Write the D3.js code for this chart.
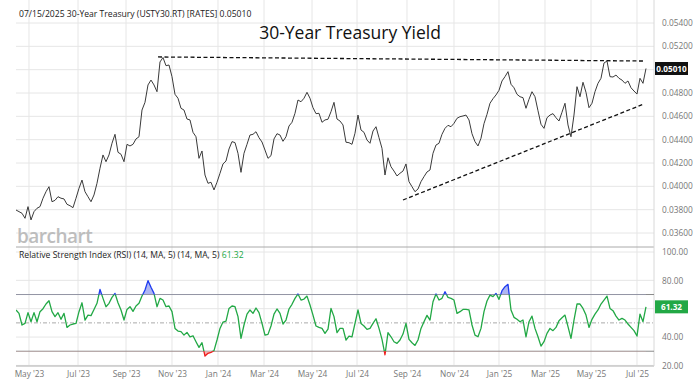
<!DOCTYPE html>
<html><head><meta charset="utf-8">
<script src="https://cdn.jsdelivr.net/npm/d3@7"></script>
<style>
html,body{margin:0;padding:0;background:#fff;}
svg{display:block;font-family:"Open Sans","Noto Sans",sans-serif;}
</style></head>
<body><svg id="c" width="700" height="387"></svg>
<script>
// ---- data (sampled about every 3 trading days) ----
const priceValues = [
0.03797,0.03783,0.03769,0.03726,0.03826,0.03712,0.03783,0.03812,0.03826,0.03898,
0.03954,0.03997,0.03868,0.03880,0.03911,0.03898,0.03892,0.03846,0.03834,0.03817,
0.03898,0.03983,0.04054,0.03954,0.03911,0.03868,0.03926,0.04026,0.04155,0.04269,
0.04211,0.04269,0.04369,0.04446,0.04292,0.04275,0.04211,0.04360,0.04346,0.04360,
0.04406,0.04425,0.04654,0.04720,0.04869,0.04911,0.04869,0.04811,0.05066,0.05104,
0.05034,0.05040,0.04940,0.04789,0.04755,0.04669,0.04654,0.04577,0.04569,0.04463,
0.04425,0.04240,0.04303,0.04097,0.04026,0.04035,0.03969,0.04035,0.04112,0.04192,
0.04217,0.04320,0.04383,0.04375,0.04283,0.04120,0.04283,0.04360,0.04440,0.04446,
0.04468,0.04417,0.04380,0.04311,0.04240,0.04263,0.04406,0.04451,0.04440,0.04386,
0.04425,0.04517,0.04549,0.04626,0.04740,0.04725,0.04755,0.04806,0.04755,0.04674,
0.04623,0.04626,0.04549,0.04569,0.04575,0.04640,0.04720,0.04577,0.04560,0.04526,
0.04378,0.04374,0.04360,0.04455,0.04611,0.04483,0.04463,0.04397,0.04369,0.04474,
0.04511,0.04417,0.04326,0.04097,0.04245,0.04168,0.04131,0.04089,0.04112,0.04131,
0.04192,0.04040,0.03997,0.03954,0.03977,0.04040,0.04083,0.04123,0.04140,0.04283,
0.04354,0.04369,0.04446,0.04497,0.04523,0.04511,0.04540,0.04583,0.04597,0.04603,
0.04611,0.04569,0.04451,0.04383,0.04346,0.04412,0.04537,0.04617,0.04712,0.04751,
0.04783,0.04823,0.04903,0.04940,0.04983,0.04875,0.04845,0.04789,0.04768,0.04760,
0.04669,0.04746,0.04811,0.04768,0.04648,0.04532,0.04497,0.04588,0.04611,0.04623,
0.04588,0.04560,0.04635,0.04712,0.04526,0.04425,0.04611,0.04854,0.04768,0.04892,
0.04806,0.04674,0.04712,0.04811,0.04883,0.04926,0.05057,0.05074,0.04940,0.04937,
0.04954,0.04926,0.04911,0.04883,0.04903,0.04845,0.04817,0.04791,0.04926,0.04883,
0.05010];
const rsiValues = [
59.1,56.7,48.5,49.6,57.2,50.8,57.2,50.8,57.9,60.0,
63.3,65.6,57.9,54.4,57.2,52.5,56.7,46.8,48.5,49.2,
49.6,57.9,64.2,52.0,55.5,55.1,59.5,63.8,73.6,67.3,
61.4,63.8,68.0,70.8,64.2,59.1,52.0,59.5,61.4,58.1,
61.9,63.8,68.9,73.2,79.8,75.1,70.8,61.4,67.3,66.1,
61.4,61.9,57.9,46.1,44.2,43.8,41.4,43.3,40.2,40.9,
36.7,32.7,36.0,26.6,28.5,29.2,30.4,37.9,46.1,50.6,
51.3,60.2,61.9,61.4,54.4,39.1,48.5,56.2,59.1,56.7,
60.5,57.2,49.6,41.4,41.9,47.8,56.2,59.8,56.7,49.2,
52.0,59.8,63.1,67.3,70.4,66.1,66.8,68.9,62.6,55.5,
47.8,46.8,46.1,42.6,45.6,60.2,54.4,43.1,46.1,46.1,
37.9,40.7,40.2,49.6,59.1,49.6,47.8,45.4,46.1,49.6,
52.9,46.1,38.4,27.5,43.1,40.2,36.7,35.5,37.9,42.1,
49.6,38.4,36.0,34.1,37.9,46.1,50.8,55.3,52.0,64.9,
70.4,66.1,67.3,72.0,68.0,67.3,66.1,56.7,57.9,59.5,
59.5,59.1,48.5,41.4,40.2,46.1,57.9,65.4,69.6,68.5,
70.8,66.6,72.7,75.5,77.2,59.1,53.9,52.5,50.8,52.0,
40.2,50.8,54.8,46.1,40.2,33.6,36.7,42.6,46.1,44.5,
46.8,51.5,53.6,55.5,47.3,39.1,52.0,63.3,63.3,60.2,
55.5,46.8,52.5,56.2,59.1,63.3,66.1,68.9,60.2,58.6,
54.8,52.0,53.2,52.0,49.2,46.8,44.5,40.7,56.2,50.8,
61.32];
const xTickIdx = [4.33,20.67,36.67,52,67.33,82.67,98.67,113.67,130.33,146,161,176.33,191.67,207];
const xTickLabels = ["May '23","Jul '23","Sep '23","Nov '23","Jan '24","Mar '24","May '24","Jul '24","Sep '24","Nov '24","Jan '25","Mar '25","May '25","Jul '25"];
const priceTicks = [0.036,0.038,0.040,0.042,0.044,0.046,0.048,0.050,0.052,0.054];
const rsiTicks = [20,40,60,80,100];
const rsiLevels = [30,70];
const trendUpper = [[47.33,0.05109],[209.67,0.05074]];
const trendLower = [[129,0.03883],[209.33,0.04706]];
const lastPrice = 0.05010, lastRsi = 61.32;

// ---- layout ----
const svg = d3.select("#c");
const L = 16, R = 654;
const x = d3.scaleLinear().domain([0, 212.67]).range([L, R]);
const y = d3.scaleLinear().domain([0.036, 0.054]).range([233, 23]);
const yr = d3.scaleLinear().domain([20, 100]).range([365.4, 252]);
const pTop = 0, pBot = 247, rTop = 247, rBot = 366;

const defs = svg.append("defs");
function clip(id, y0, y1){ defs.append("clipPath").attr("id", id).append("rect").attr("x", L).attr("y", y0).attr("width", R-L).attr("height", y1-y0); }
clip("cp", pTop, pBot);
clip("cmid", yr(70), yr(30));
clip("chigh", rTop, yr(70));
clip("clow", yr(30), rBot);

const grid = svg.append("g");
grid.selectAll("line.v").data(xTickIdx).join("line")
  .attr("x1", d=>x(d)).attr("x2", d=>x(d)).attr("y1", 0).attr("y2", rBot)
  .attr("stroke", "#e6e6e6").attr("stroke-width", 1);
grid.selectAll("line.hp").data(priceTicks).join("line")
  .attr("x1", L).attr("x2", R).attr("y1", d=>y(d)).attr("y2", d=>y(d))
  .attr("stroke", "#e6e6e6");
grid.selectAll("line.hr").data(rsiTicks).enter().append("line")
  .attr("x1", L).attr("x2", R).attr("y1", d=>yr(d)).attr("y2", d=>yr(d))
  .attr("stroke", "#e6e6e6");
svg.append("line").attr("x1", L).attr("x2", R).attr("y1", pBot).attr("y2", pBot).attr("stroke", "#aaa");
svg.append("line").attr("x1", L).attr("x2", R).attr("y1", rBot).attr("y2", rBot).attr("stroke", "#c8c8c8").attr("stroke-width",1.5);
svg.append("line").attr("x1", R).attr("x2", R).attr("y1", 0).attr("y2", rBot).attr("stroke", "#d8d8d8");
svg.selectAll("line.lv").data(rsiLevels).enter().append("line")
  .attr("x1", L).attr("x2", R).attr("y1", d=>yr(d)).attr("y2", d=>yr(d))
  .attr("stroke", "#8a8a8a").attr("stroke-width", 1);
svg.append("line").attr("x1", L).attr("x2", R).attr("y1", yr(50)).attr("y2", yr(50))
  .attr("stroke", "#aaa").attr("stroke-dasharray", "4,2,1,2");

// texts
svg.append("text").attr("x", 19).attr("y", 17).attr("font-size", 8.6).attr("fill", "#222")
  .text("07/15/2025 30-Year Treasury (USTY30.RT) [RATES] 0.05010");
svg.append("text").attr("x", 350).attr("y", 39).attr("text-anchor", "middle").attr("font-size", 17.5).attr("fill", "#111")
  .text("30-Year Treasury Yield");
svg.append("text").attr("x", 17).attr("y", 243).attr("font-size", 19).attr("font-weight", 600).attr("fill", "#bdbdbd")
  .attr("letter-spacing", -0.5).text("barchart");
const lg = svg.append("text").attr("x", 19).attr("y", 258).attr("font-size", 8.6).attr("fill", "#222");
lg.append("tspan").text("Relative Strength Index (RSI) (14, MA, 5)  (14, MA, 5) ");
lg.append("tspan").attr("fill", "#22a845").text(lastRsi.toFixed(2));

// price line
const idx = d3.range(priceValues.length);
const pLine = d3.line().x(i=>x(i)).y(i=>y(priceValues[i]));
svg.append("path").attr("clip-path", "url(#cp)").attr("d", pLine(idx))
  .attr("fill", "none").attr("stroke", "#3a3a3a").attr("stroke-width", 1).attr("stroke-linejoin", "round");
const tl = d3.line().x(d=>x(d[0])).y(d=>y(d[1]));
[trendUpper, trendLower].forEach(t=>{
  svg.append("path").attr("d", tl(t)).attr("fill","none").attr("stroke","#111")
    .attr("stroke-width", 1.3).attr("stroke-dasharray", "4,2.5");
});

// rsi
const rLine = d3.line().x(i=>x(i)).y(i=>yr(rsiValues[i]));
const ridx = d3.range(rsiValues.length);
svg.append("path").attr("clip-path","url(#chigh)")
  .attr("d", d3.area().x(i=>x(i)).y0(yr(70)).y1(i=>yr(rsiValues[i]))(ridx))
  .attr("fill", "#aeb6f2");
svg.append("path").attr("clip-path","url(#clow)")
  .attr("d", d3.area().x(i=>x(i)).y0(yr(30)).y1(i=>yr(rsiValues[i]))(ridx))
  .attr("fill", "#f4b0b0");
[["cmid","#22a845"],["chigh","#1f3cf0"],["clow","#ee1c1c"]].forEach(([c,col])=>{
  svg.append("path").attr("clip-path", `url(#${c})`).attr("d", rLine(ridx))
    .attr("fill","none").attr("stroke", col).attr("stroke-width", 1.3).attr("stroke-linejoin","round");
});

// axes (labels hidden behind the last-value boxes are skipped)
const pShown = priceTicks.filter(t=>Math.abs(y(t)-y(lastPrice))>9);
const rShown = rsiTicks.filter(t=>Math.abs(yr(t)-yr(lastRsi))>9);
const axP = svg.append("g").attr("transform", `translate(${R},0)`)
  .call(d3.axisRight(y).tickValues(pShown).tickFormat(d3.format(".5f")).tickSize(0).tickPadding(8));
const axR = svg.append("g").attr("transform", `translate(${R},0)`)
  .call(d3.axisRight(yr).tickValues(rShown).tickFormat(d3.format(".2f")).tickSize(0).tickPadding(8));
const axX = svg.append("g").attr("transform", `translate(0,${rBot})`)
  .call(d3.axisBottom(x).tickValues(xTickIdx).tickFormat((d,i)=>xTickLabels[i]).tickSize(0).tickPadding(5));
[axP, axR, axX].forEach(a=>{
  a.select(".domain").remove();
  a.selectAll("text").attr("font-family", "Open Sans").attr("font-size", 8.3).attr("fill", "#777");
});

function box(yy, txt, col){
  const g = svg.append("g");
  g.append("rect").attr("x", 655).attr("y", yy-6.5).attr("width", 33).attr("height", 13).attr("fill", col);
  g.append("text").attr("x", 671.5).attr("y", yy+3).attr("text-anchor","middle").attr("font-size", 8.2)
    .attr("font-weight", 700).attr("fill", "#fff").text(txt);
}
box(y(lastPrice), d3.format(".5f")(lastPrice), "#111");
box(yr(lastRsi), lastRsi.toFixed(2), "#22a845");
</script></body></html>
